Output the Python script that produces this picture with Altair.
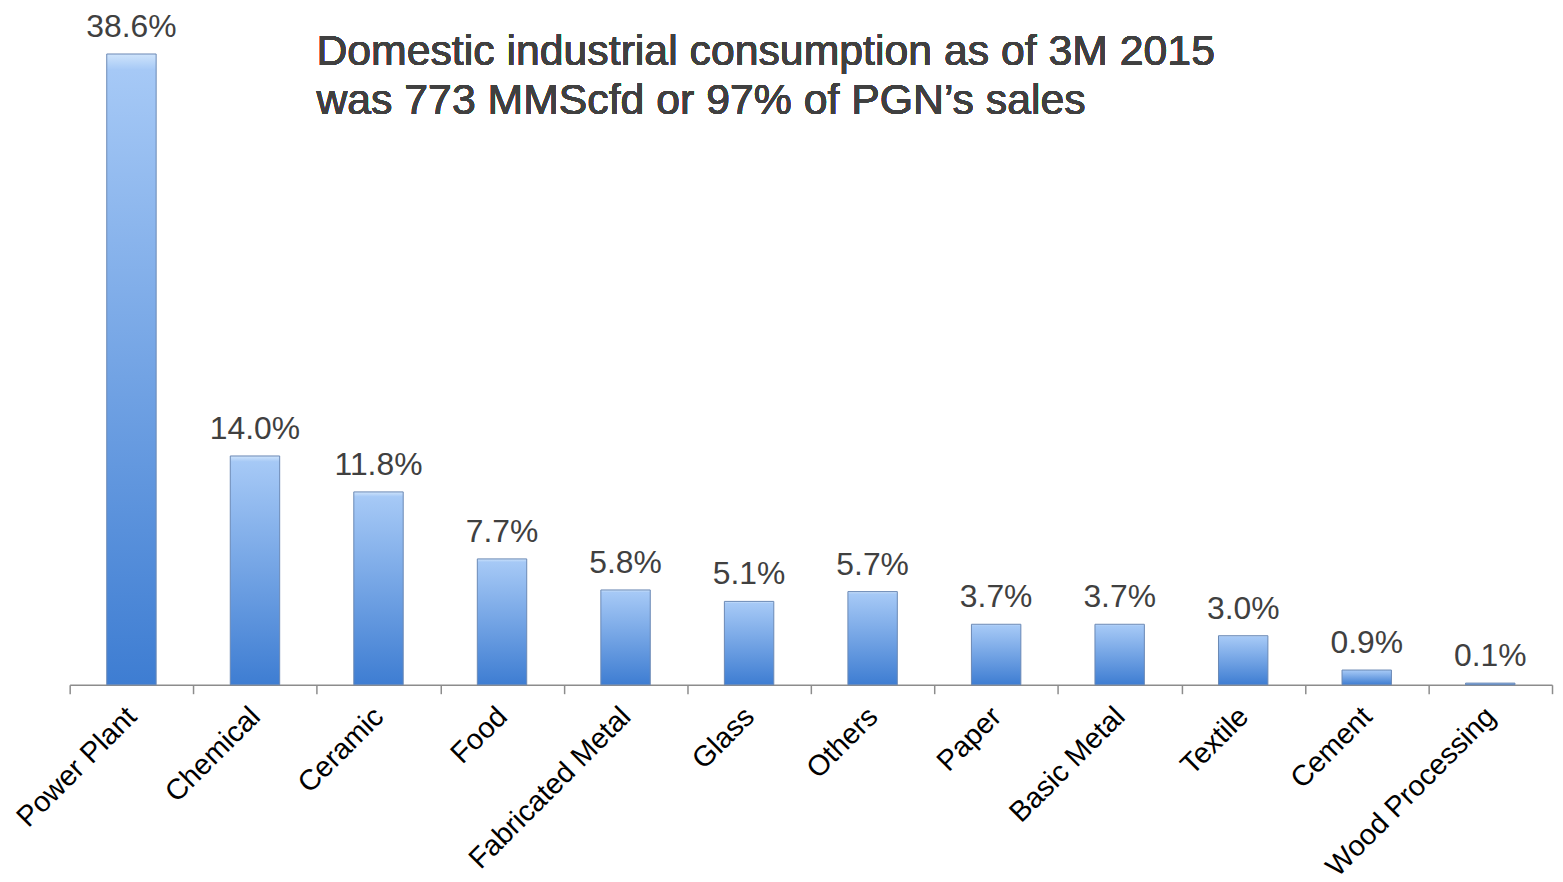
import altair as alt
import pandas as pd

categories = ["Power Plant", "Chemical", "Ceramic", "Food", "Fabricated Metal", "Glass",
              "Others", "Paper", "Basic Metal", "Textile", "Cement", "Wood Processing"]
shares = [38.6, 14.0, 11.8, 7.7, 5.8, 5.1, 5.7, 3.7, 3.7, 3.0, 0.9, 0.1]
labels = ["38.6%", "14.0%", "11.8%", "7.7%", "5.8%", "5.1%", "5.7%", "3.7%", "3.7%", "3.0%", "0.9%", "0.1%"]
title_line1 = "Domestic industrial consumption as of 3M 2015"
title_line2 = "was 773 MMScfd or 97% of PGN\u2019s sales"

df = pd.DataFrame({"category": categories, "share": shares, "label": labels})

FONT = "Liberation Sans"

gradient = alt.Gradient(
    gradient="linear", x1=0, y1=0, x2=0, y2=1,
    stops=[alt.GradientStop(offset=0, color="#cfe4fb"),
           alt.GradientStop(offset=0.025, color="#a6c9f6"),
           alt.GradientStop(offset=1, color="#3e7dd2")],
)

x = alt.X("category:N", sort=categories, title=None,
          scale=alt.Scale(paddingInner=0, paddingOuter=0),
          axis=alt.Axis(labelAngle=-45, labelFontSize=29, labelFont=FONT, labelColor="#000000",
                        labelLimit=0, domainColor="#8c8c8c", domainWidth=1.5,
                        tickColor="#8c8c8c", tickWidth=1.5, tickSize=9, tickBand="extent",
                        labelBaseline="middle", labelAlign="right", labelPadding=18))
y = alt.Y("share:Q", scale=alt.Scale(domain=[0, 40]), axis=None)

bars = alt.Chart(df).mark_bar(fill=gradient, stroke="#6a88b4", strokeWidth=1,
                              width=alt.RelativeBandSize(0.4)).encode(x=x, y=y)

text = alt.Chart(df).mark_text(fontSize=32, font=FONT, color="#404040", baseline="alphabetic", dy=-17).encode(
    x=alt.X("category:N", sort=categories),
    y=alt.Y("share:Q", scale=alt.Scale(domain=[0, 40]), axis=None),
    text="label:N")

t1 = alt.Chart(df).mark_text(fontSize=43, font=FONT, color="#404040", align="left",
                             baseline="alphabetic", text=title_line1).encode(
    x=alt.value(248), y=alt.value(34))
t2 = alt.Chart(df).mark_text(fontSize=43, font=FONT, color="#404040", align="left",
                             baseline="alphabetic", text=title_line2).encode(
    x=alt.value(248), y=alt.value(83))

chart = alt.layer(bars, text, t1, t2).properties(
    width=1490, height=657,
    autosize=alt.AutoSizeParams(type="none"),
    padding={"left": 62, "top": 21, "right": 3, "bottom": 188},
).configure_view(stroke=None)

chart.save("out.html", embed_options={"renderer": "svg", "actions": False})
